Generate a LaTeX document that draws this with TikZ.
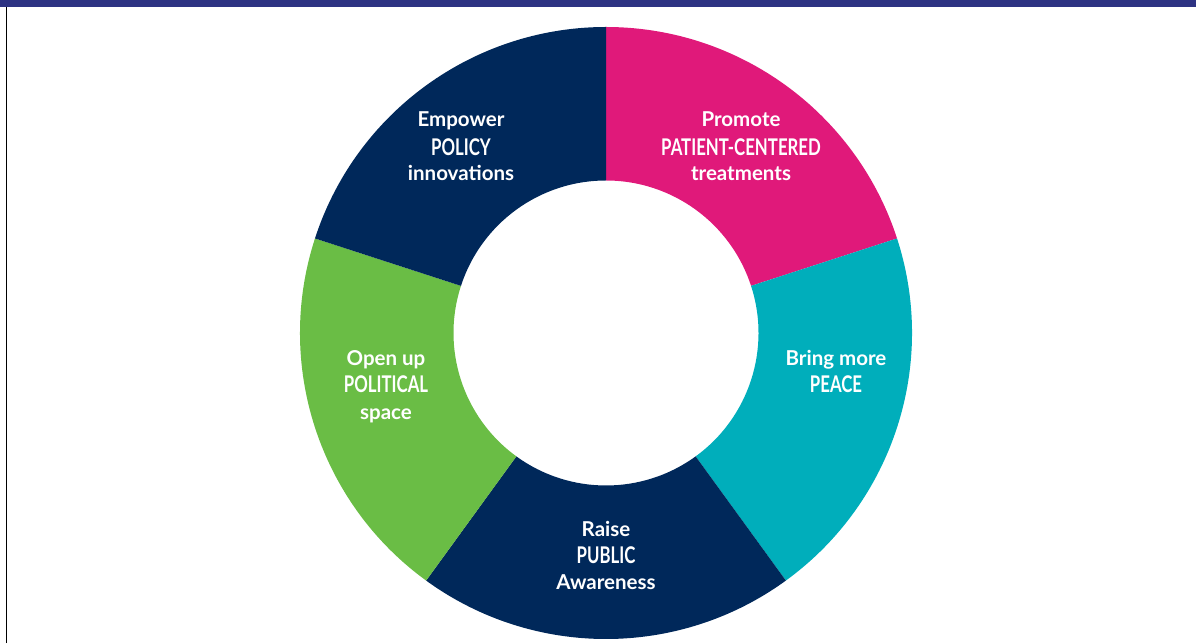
\documentclass[tikz,border=0pt]{standalone}
\usepackage{fontspec}
\setmainfont{Lato}
\usepackage{graphicx}
\definecolor{barblue}{HTML}{2E3383}
\definecolor{navyseg}{HTML}{00285A}
\definecolor{pinkseg}{HTML}{E0197A}
\definecolor{tealseg}{HTML}{00AEBB}
\definecolor{greenseg}{HTML}{6ABD45}
\newcommand{\capw}[1]{\scalebox{0.73}[1]{\fontsize{23}{23}\selectfont #1}}
\tikzset{
  lbl/.style={text=white, font=\bfseries\fontsize{20.5}{20.5}\selectfont, anchor=base, inner sep=0pt},
}
\begin{document}
\begin{tikzpicture}[x=1pt,y=1pt]
\useasboundingbox (0,0) rectangle (1196,643);
\fill[barblue] (0,635.5) rectangle (1196,643);
\draw[black, line width=1.6pt] (6.5,0) -- (6.5,635.5);
\begin{scope}[shift={(606,310)}]
  \def\R{306}\def\r{152.5}
  \fill[pinkseg] (90:\R) arc[start angle=90,end angle=18,radius=\R] -- (18:\r) arc[start angle=18,end angle=90,radius=\r] -- cycle;
  \fill[tealseg] (18:\R) arc[start angle=18,end angle=-54,radius=\R] -- (-54:\r) arc[start angle=-54,end angle=18,radius=\r] -- cycle;
  \fill[navyseg] (-54:\R) arc[start angle=-54,end angle=-126,radius=\R] -- (-126:\r) arc[start angle=-126,end angle=-54,radius=\r] -- cycle;
  \fill[greenseg] (-126:\R) arc[start angle=-126,end angle=-198,radius=\R] -- (162:\r) arc[start angle=162,end angle=234,radius=\r] -- cycle;
  \fill[navyseg] (162:\R) arc[start angle=162,end angle=90,radius=\R] -- (90:\r) arc[start angle=90,end angle=162,radius=\r] -- cycle;
\end{scope}
% Promote
\node[lbl] (p1) at (741,516) {Promote};
\node[lbl] (p2) at (741,487) {\capw{PATIENT-CENTERED}};
\node[lbl] (p3) at (741,462) {treatments};
% Empower
\node[lbl] (e1) at (461,516) {Empower};
\node[lbl] (e2) at (461,487) {\capw{POLICY}};
\node[lbl] (e3) at (461,462) {innovations};
% Open up
\node[lbl] (o1) at (386,277) {Open up};
\node[lbl] (o2) at (386,250) {\capw{POLITICAL}};
\node[lbl] (o3) at (386,223) {space};
% Bring more
\node[lbl] (b1) at (836,277) {Bring more};
\node[lbl] (b2) at (836,250) {\capw{PEACE}};
% Raise
\node[lbl] (r1) at (606,107) {Raise};
\node[lbl] (r2) at (606,80) {\capw{PUBLIC}};
\node[lbl] (r3) at (606,54) {Awareness};
\end{tikzpicture}
\end{document}
